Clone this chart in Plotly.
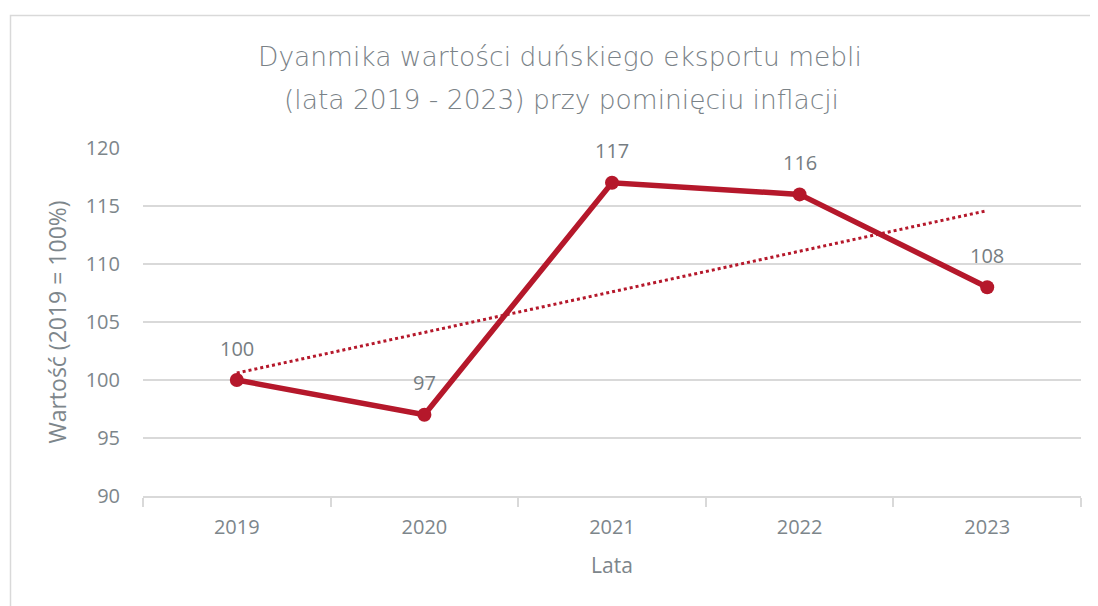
import numpy as np
import plotly.graph_objects as go

years = ["2019", "2020", "2021", "2022", "2023"]
values = [100, 97, 117, 116, 108]
y_ticks = [90, 95, 100, 105, 110, 115, 120]
title_line1 = "Dyanmika wartości duńskiego eksportu mebli"
title_line2 = "(lata 2019 - 2023) przy pominięciu inflacji"
y_title = "Wartość (2019 = 100%)"
x_title = "Lata"

RED = "#B5182B"
GRAY = "#7d868b"
GRID = "#d9d9d9"
FONT = "Open Sans"

# linear trendline (as in spreadsheet trendline)
idx = np.arange(len(values))
slope, intercept = np.polyfit(idx, values, 1)
trend = [float(intercept + slope * i) for i in idx]

fig = go.Figure()
fig.add_trace(go.Scatter(
    x=years, y=trend, mode="lines",
    line=dict(color=RED, width=3, dash="dot"),
    hoverinfo="skip", showlegend=False,
))
fig.add_trace(go.Scatter(
    x=years, y=values, mode="lines+markers",
    line=dict(color=RED, width=5.5),
    marker=dict(color=RED, size=14),
    showlegend=False,
))

for i, v in enumerate(values):
    fig.add_annotation(x=i, y=v, xref="x", yref="y", text=str(v), showarrow=False,
                       yshift=32, font=dict(family=FONT, size=20, color="#767d82"))

# page has 8px body margin: work in page coordinates, then offset
OFF = 8
W, H = 1098 - OFF, 606 - OFF
L, R, T, B = 143 - OFF, 1098 - 1081, 148 - OFF, 606 - 496
pw, ph = W - L - R, H - T - B

def px_to_paper_x(px):
    return (px - OFF - L) / pw

def px_to_paper_y(py):
    return (H - B - (py - OFF)) / ph

TFONT = dict(family="DejaVu Sans", size=26.5, color="#7a8287", weight=200)
fig.add_annotation(text=title_line1, xref="paper", yref="paper",
                   x=px_to_paper_x(560), y=px_to_paper_y(57), showarrow=False,
                   xanchor="center", yanchor="middle", font=TFONT)
fig.add_annotation(text=title_line2, xref="paper", yref="paper",
                   x=px_to_paper_x(561), y=px_to_paper_y(100), showarrow=False,
                   xanchor="center", yanchor="middle", font=TFONT)

# outer border
fig.add_shape(type="rect", xref="paper", yref="paper",
              x0=px_to_paper_x(10.5), x1=px_to_paper_x(1110),
              y0=px_to_paper_y(620), y1=px_to_paper_y(15.5),
              line=dict(color="#d9d9d9", width=1.5), layer="below")

fig.update_layout(
    width=W, height=H,
    margin=dict(l=L, r=R, t=T, b=B),
    paper_bgcolor="white", plot_bgcolor="white",
    font=dict(family=FONT, color=GRAY),
    xaxis=dict(
        type="category", range=[-0.5, 4.5],
        showgrid=False, showline=True, linecolor=GRID, linewidth=1.5,
        ticks="outside", tickson="boundaries", ticklen=9, tickcolor=GRID, tickwidth=1.5,
        tickfont=dict(family=FONT, size=20, color=GRAY),
        ticklabelstandoff=12,
        title=dict(text=x_title, font=dict(family=FONT, size=21, color=GRAY), standoff=20),
        fixedrange=True,
    ),
    yaxis=dict(
        range=[90, 120], tickvals=y_ticks,
        showgrid=True, gridcolor=GRID, gridwidth=1.5,
        zeroline=False, showline=False,
        tickfont=dict(family=FONT, size=20, color=GRAY),
        ticklabelstandoff=22,
        title=dict(text=y_title, font=dict(family=FONT, size=23, color=GRAY), standoff=12),
        fixedrange=True,
    ),
)

fig.write_html("out.html")
